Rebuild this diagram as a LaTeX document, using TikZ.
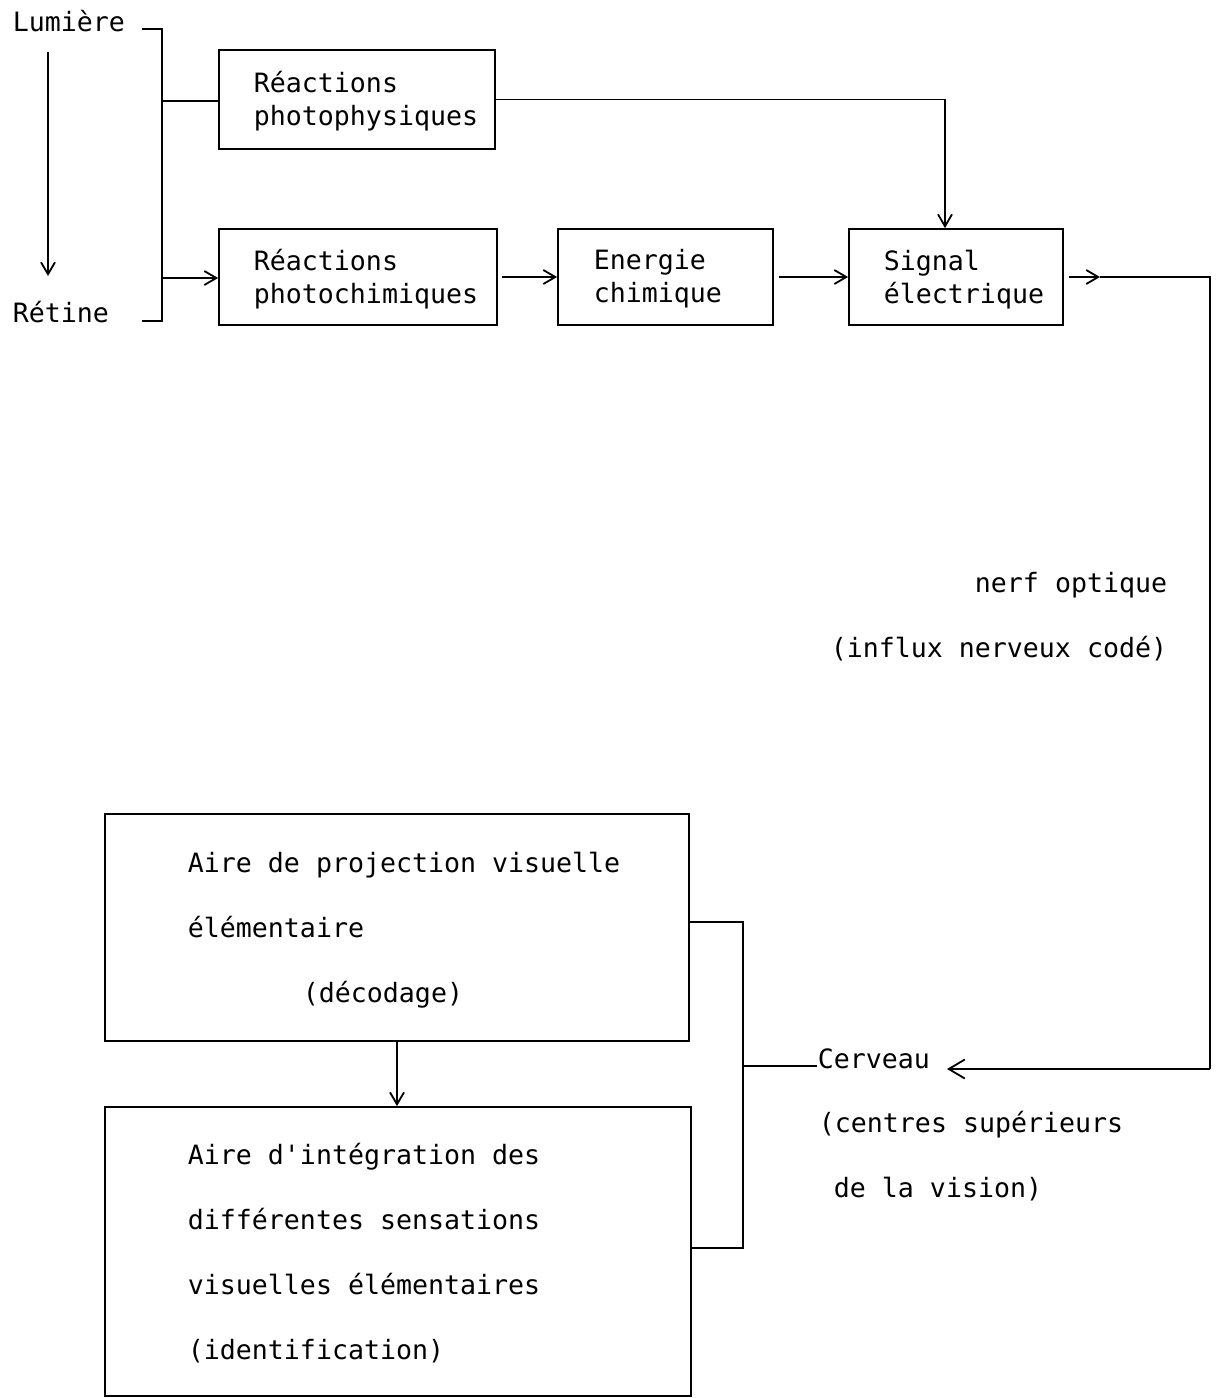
\documentclass[tikz,border=0pt]{standalone}
\usepackage{fontspec}
\setmonofont{DejaVu Sans Mono}
\usetikzlibrary{arrows.meta}
\begin{document}
\begin{tikzpicture}[x=1pt,y=-1pt,
  line width=1.8pt,
  box/.style={draw, line width=1.8pt, inner sep=0pt},
  txt/.style={inner sep=0pt, anchor=base west, align=left,
    font=\ttfamily\fontsize{26.6pt}{33pt}\selectfont},
  wtxt/.style={txt, font=\ttfamily\fontsize{26.6pt}{65pt}\selectfont},
  arr/.style={-{Straight Barb[length=12pt,width=14pt]}},
  bigarr/.style={-{Straight Barb[length=16pt,width=19pt]}}]
\useasboundingbox (0,0) rectangle (1217,1398);

% boxes
\node[box, minimum width=276pt, minimum height=99pt] (b1) at (357,99.5) {};
\node[box, minimum width=278pt, minimum height=96pt] (b2) at (358,277) {};
\node[box, minimum width=215pt, minimum height=96pt] (b3) at (665.5,277) {};
\node[box, minimum width=214pt, minimum height=96pt] (b4) at (956,277) {};
\node[box, minimum width=584pt, minimum height=227pt] (b5) at (397,927.5) {};
\node[box, minimum width=586pt, minimum height=289pt] (b6) at (398,1251.5) {};

% texts (base anchor = baseline of the last line)
\node[txt] (lum) at (12,31) {Lumière};
\node[txt] (ret) at (12,322) {Rétine};
\node[txt] (t1) at (253,125) {Réactions\\photophysiques};
\node[txt] (t2) at (253,303) {Réactions\\photochimiques};
\node[txt] (t3) at (593,302) {Energie\\chimique};
\node[txt] (t4) at (883,303) {Signal\\électrique};
\node[txt, anchor=base east] (nerf) at (1168,592) {nerf optique};
\node[txt, anchor=base east] (influx) at (1168,657) {(influx nerveux codé)};
\node[wtxt] (t5) at (187,1002) {Aire de projection visuelle\\élémentaire\\\hspace*{115pt}(décodage)};
\node[wtxt] (t6) at (187,1359) {Aire d'intégration des\\différentes sensations\\visuelles élémentaires\\(identification)};
\node[txt] (cerv) at (817,1068) {Cerveau};
\node[wtxt] (ctr) at (818,1197) {(centres supérieurs\\\hspace*{15pt}de la vision)};

% coordinates
\coordinate (la) at (48,52);
\coordinate (lb) at (48,276);
\coordinate (brT) at (162,29);
\coordinate (brB) at (162,321);
\coordinate (brTs) at (142,29);
\coordinate (brBs) at (142,321);
\coordinate (br1) at (162,101);
\coordinate (br2) at (162,278);
\coordinate (so) at (1100,277);
\coordinate (rc) at (1210,277);
\coordinate (rd) at (1210,1069);
\coordinate (ca) at (947,1069);
\coordinate (cT) at (743,922);
\coordinate (cB) at (743,1248);
\coordinate (cM) at (743,1066);

% connectors
\draw[arr] (la) -- (lb);
\draw (brTs) -- (brT) -- (brB) -- (brBs);
\draw (br1) -- (br1 -| b1.west);
\draw[arr] (br2) -- (br2 -| b2.west);
\draw[arr] (b1.east) -| ([xshift=-11pt]b4.north);
\draw[arr] ([xshift=4pt]b2.east) -- (b3.west);
\draw[arr] ([xshift=5pt]b3.east) -- (b4.west);
\draw[arr] ([xshift=5pt]b4.east) -- (so);
\draw (so) -- (rc) -- (rd);
\draw[bigarr] (rd) -- (ca);
\draw (cT -| b5.east) -- (cT) -- (cB) -- (cB -| b6.east);
\draw (cM) -- (cM -| cerv.west);
\draw[arr] (b5.south) -- (b5.south |- b6.north);
\end{tikzpicture}
\end{document}
